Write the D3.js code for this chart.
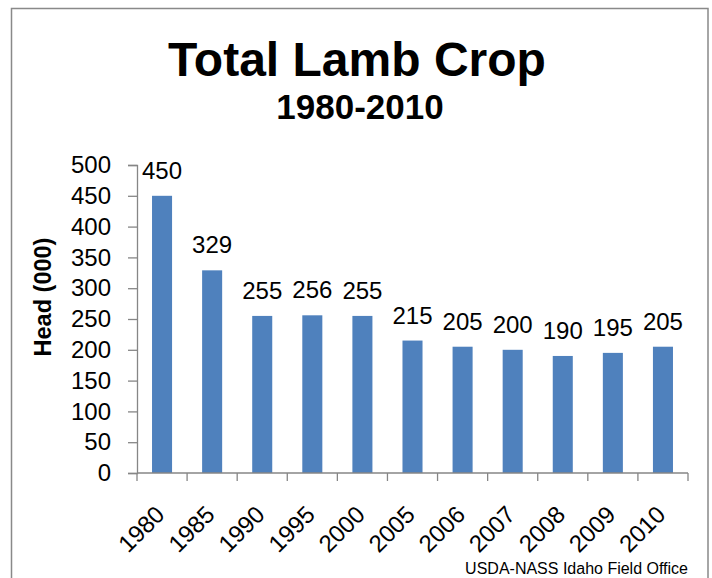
<!DOCTYPE html>
<html>
<head>
<meta charset="utf-8">
<script src="https://cdn.jsdelivr.net/npm/d3@7/dist/d3.min.js"></script>
<style>
  html, body { margin: 0; padding: 0; background: #fff; }
  svg { display: block; font-family: "Liberation Sans", Arial, sans-serif; }
</style>
</head>
<body>
<svg id="chart" width="712" height="578"></svg>
<script>
const categories = ["1980","1985","1990","1995","2000","2005","2006","2007","2008","2009","2010"];
const values = [450, 329, 255, 256, 255, 215, 205, 200, 190, 195, 205];
const yTicks = [0, 50, 100, 150, 200, 250, 300, 350, 400, 450, 500];
const titleText = "Total Lamb Crop";
const subtitleText = "1980-2010";
const yAxisTitle = "Head (000)";
const sourceText = "USDA-NASS Idaho Field Office";

(function () {
const svg = d3.select("#chart");
const axisColor = "#868686";

// border
svg.append("rect")
  .attr("x", 11.5).attr("y", 8.5)
  .attr("width", 696.5).attr("height", 600)
  .attr("fill", "none").attr("stroke", "#898989").attr("stroke-width", 1.5);

const pLeft = 137, pRight = 688, pTop = 165, pBottom = 473;

const x = d3.scaleBand().domain(categories).range([pLeft, pRight]).paddingInner(0.6).paddingOuter(0.3);
const xb = d3.scaleBand().domain(categories).range([pLeft, pRight]);
const y = d3.scaleLinear().domain([0, 500]).range([pBottom, pTop]);

// titles
svg.append("text").attr("x", 357).attr("y", 76).attr("text-anchor", "middle")
  .attr("font-size", 48).attr("font-weight", "bold").attr("fill", "#000").text(titleText);
svg.append("text").attr("x", 360).attr("y", 119).attr("text-anchor", "middle")
  .attr("font-size", 35).attr("font-weight", "bold").attr("fill", "#000").text(subtitleText);

// bars
svg.append("g").selectAll("rect").data(values).join("rect")
  .attr("x", (d, i) => x(categories[i]))
  .attr("width", x.bandwidth())
  .attr("y", d => y(d))
  .attr("height", d => y(0) - y(d))
  .attr("fill", "#4F81BD");

// data labels
svg.append("g").selectAll("text").data(values).join("text")
  .attr("x", (d, i) => x(categories[i]) + x.bandwidth() / 2)
  .attr("y", d => y(d) - 17)
  .attr("text-anchor", "middle")
  .attr("font-size", 24)
  .attr("fill", "#000")
  .text(d => d);

// y axis
const yAxis = svg.append("g").attr("transform", `translate(${pLeft},0)`)
  .call(d3.axisLeft(y).tickValues(yTicks).tickSize(9).tickPadding(17));
yAxis.select(".domain").attr("stroke", axisColor).attr("stroke-width", 1.3);
yAxis.selectAll(".tick line").attr("stroke", axisColor).attr("stroke-width", 1.3);
yAxis.selectAll(".tick text").attr("font-size", 24).attr("fill", "#000")
  .attr("font-family", "'Liberation Sans', Arial, sans-serif");

// x axis baseline and ticks at band boundaries
const xg = svg.append("g");
xg.append("line").attr("x1", pLeft).attr("x2", pRight).attr("y1", pBottom).attr("y2", pBottom)
  .attr("stroke", axisColor).attr("stroke-width", 1.3);
const boundaries = categories.map(c => xb(c)).concat([xb(categories[categories.length - 1]) + xb.bandwidth()]);
xg.selectAll("line.tk").data(boundaries).join("line").attr("class", "tk")
  .attr("x1", d => d).attr("x2", d => d).attr("y1", pBottom).attr("y2", pBottom + 8)
  .attr("stroke", axisColor).attr("stroke-width", 1.3);

// x tick labels rotated
xg.selectAll("text").data(categories).join("text")
  .attr("transform", c => `translate(${xb(c) + xb.bandwidth() / 2 + 4},${516}) rotate(-45)`)
  .attr("text-anchor", "end")
  .attr("font-size", 24)
  .attr("fill", "#000")
  .text(c => c);

// y axis title
svg.append("text")
  .attr("transform", `translate(51,297) rotate(-90)`)
  .attr("text-anchor", "middle")
  .attr("font-size", 23.5)
  .attr("font-weight", "bold")
  .attr("fill", "#000")
  .text(yAxisTitle);

// source
svg.append("text").attr("x", 688).attr("y", 574).attr("text-anchor", "end")
  .attr("font-size", 16).attr("fill", "#000").text(sourceText);
})();
</script>
</body>
</html>
